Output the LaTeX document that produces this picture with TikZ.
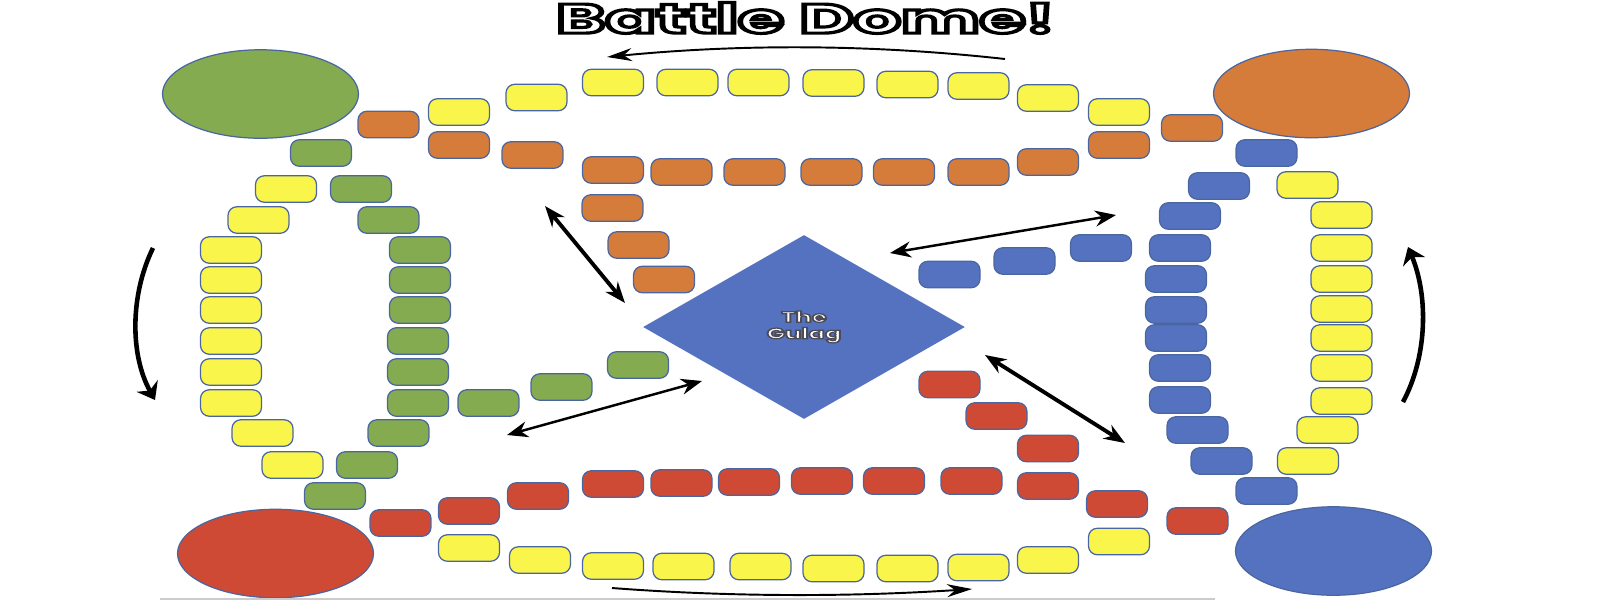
\documentclass[tikz,border=0pt]{standalone}
\usepackage{fontspec}
\usepackage{graphicx}
\usepackage{tikz}
\usetikzlibrary{arrows.meta,shapes.geometric}
\newfontfamily\boardfont{Poppins}
\definecolor{tileyellow}{HTML}{FAF54A}
\definecolor{tileorange}{HTML}{D67C3A}
\definecolor{tilegreen}{HTML}{84AB4F}
\definecolor{tilered}{HTML}{CF4A34}
\definecolor{tileblue}{HTML}{5572C0}
\definecolor{tileedge}{HTML}{4A66A0}
% white letters with a dark rim
\newcommand\hollowtext[3]{{\color{white}\special{pdf:literal direct #2 RG 2 Tr #1 w}#3\special{pdf:literal direct 0 Tr}}}

\begin{document}
\begin{tikzpicture}[x=0.02cm, y=-0.02cm,
  tile/.style={draw=tileedge, line width=0.7pt, rounded corners=5pt, minimum width=1.22cm, minimum height=0.53cm, inner sep=0pt},
  yel/.style={tile, fill=tileyellow},
  org/.style={tile, fill=tileorange},
  grn/.style={tile, fill=tilegreen},
  rd/.style={tile, fill=tilered},
  bl/.style={tile, fill=tileblue},
  home/.style={ellipse, draw=tileedge, line width=0.7pt, inner sep=0pt, minimum width=3.92cm, minimum height=1.77cm},
  thinarrow/.style={-{Stealth[length=5mm,width=2.6mm]}, line width=1.1pt},
  turnarrow/.style={-{Stealth[length=3.2mm,width=4.8mm]}, line width=2.6pt},
  swaparrow/.style={{Stealth[length=4.2mm,width=3.2mm]}-{Stealth[length=4.2mm,width=3.2mm]}}
]
\useasboundingbox (0,0) rectangle (1600,600);

% homes and the gulag
\node[home, fill=tilegreen] (greenhome) at (260.5,94) {};
\node[home, fill=tileorange] (orangehome) at (1311.5,93.5) {};
\node[home, fill=tilered] (redhome) at (275.5,553.5) {};
\node[home, fill=tileblue] (bluehome) at (1333.5,551) {};
\node[diamond, fill=tileblue, minimum width=6.44cm, minimum height=3.68cm, inner sep=0pt, align=center,
  font=\boardfont\bfseries\fontsize{8.6}{10.4}\selectfont] (gulag) at (804,327)
  {\scalebox{1.6}[1]{\hollowtext{0.7}{0.3 0.3 0.35}{The}}\\[-1pt]\scalebox{1.6}[1]{\hollowtext{0.7}{0.3 0.3 0.35}{Gulag}}};

\node[font=\boardfont\bfseries\fontsize{23.5}{24}\selectfont] (title) at (805.5,18)
  {\scalebox{1.8}[1]{\hollowtext{1.8}{0 0 0}{Battle Dome!}}};

% outer yellow ring
\foreach \x/\y [count=\i] in {459/112, 536.5/97.5, 613/82.5, 687.5/82.5, 758.5/82.5, 833.5/83, 907.5/84.5, 978.5/86, 1048/98, 1119/112,
  1307.5/185, 1341.5/215, 1341.5/248, 1341.5/279, 1341.5/309, 1341.5/338, 1341.5/368, 1341.5/401, 1327.5/430, 1308/461,
  1119/541.5, 1048/560, 978.5/567.5, 907.5/568.5, 833.5/568.5, 760.5/566.5, 683.5/566.5, 613/566, 540/560, 469/548,
  292.5/465, 262.5/433, 231/403, 231/372, 231/341, 231/310, 231/280, 231/250, 258.5/220, 286/189}
  \node[yel] (yl\i) at (\x,\y) {};

% orange track
\foreach \x/\y [count=\i] in {388.5/124.5, 459/145, 532.5/155, 613/170, 681.5/172, 754.5/172, 831.5/172, 904/172, 978.5/172,
  1048/162, 1119/145, 1192/128, 612.5/208, 638.5/245, 664/279.5}
  \node[org] (or\i) at (\x,\y) {};

% green track
\foreach \x/\y [count=\i] in {321/153, 361/189, 388.5/220, 420/250, 420/280, 420/310, 418/341, 418/372, 418/403,
  398.5/433, 367/465, 335/496, 488.5/403, 561.5/387, 638/365}
  \node[grn] (gr\i) at (\x,\y) {};

% red track
\foreach \x/\y [count=\i] in {400.5/523, 469/511, 538/496, 613/484, 681.5/483, 749/482, 822/481, 894/481, 971.5/481,
  1048/486, 1117/504, 1197.5/521, 1048/448.5, 996.5/416, 949.5/384.5}
  \node[rd] (rd\i) at (\x,\y) {};

% blue track
\foreach \x/\y [count=\i] in {1266.5/153, 1219/186, 1190/216, 1180/248, 1176/279, 1176/310, 1176/338, 1180/368, 1180/400,
  1197.5/430, 1221.5/461, 1266.5/491, 1101/248, 1024.5/261, 949.5/274.5}
  \node[bl] (bl\i) at (\x,\y) {};

% arrow ends
\coordinate (topR) at (1005,59);
\coordinate (topL) at (607,57);
\coordinate (botL) at (612,588);
\coordinate (botR) at (972,589);
\coordinate (leftT) at (153,248);
\coordinate (leftB) at (155,400);
\coordinate (rightB) at (1403,402);
\coordinate (rightT) at (1408,247);
\coordinate (orA) at (545,206);
\coordinate (orB) at (625,303);
\coordinate (blA) at (890,253);
\coordinate (blB) at (1116,215);
\coordinate (grA) at (507,435);
\coordinate (grB) at (702,381);
\coordinate (rdA) at (985,355);
\coordinate (rdB) at (1125,443);

\draw[thinarrow] (topR) .. controls (870,44) and (740,44) .. (topL);
\draw[thinarrow] (botL) .. controls (730,597) and (850,597) .. (botR);
\draw[turnarrow] (leftT) .. controls (130,295) and (130,355) .. (leftB);
\draw[turnarrow] (rightB) .. controls (1428,355) and (1428,295) .. (rightT);

\draw[swaparrow, line width=2.2pt] (orA) -- (orB);
\draw[swaparrow, line width=2.2pt] (rdA) -- (rdB);
\draw[swaparrow, line width=1.4pt] (blA) -- (blB);
\draw[swaparrow, line width=1.4pt] (grA) -- (grB);

\draw[black!20, line width=0.8pt] (160,599) -- (1215,599);
\end{tikzpicture}
\end{document}
